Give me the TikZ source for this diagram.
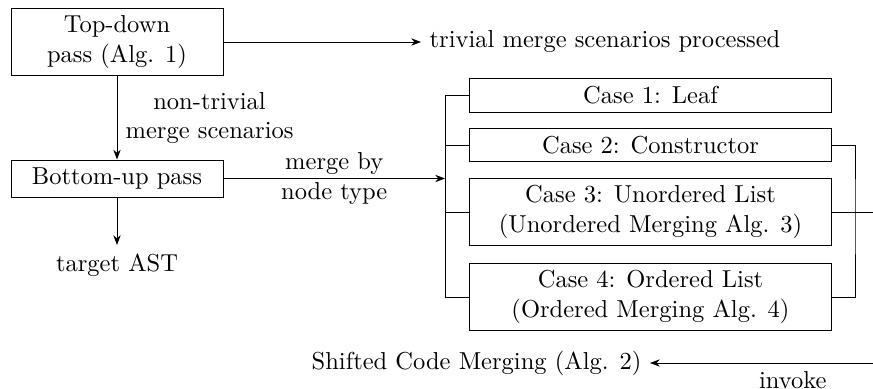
\documentclass[tikz,border=0pt]{standalone}
\usetikzlibrary{arrows.meta}
\begin{document}
\begin{tikzpicture}[x=0.408pt, y=-0.408pt,
  box/.style={draw, align=center, inner sep=2pt},
  passbox/.style={box, minimum width=86.5pt},
  casebox/.style={box, minimum width=147.3pt},
  conn/.style={-{Stealth[length=4pt,width=3pt]}}]
\useasboundingbox (0,0) rectangle (873,389);

% two passes over the tree
\node[passbox, minimum height=27.7pt] (td) at (117,42) {Top-down\\pass (Alg. 1)};
\node[passbox, minimum height=15.1pt] (bu) at (117,178.5) {Bottom-up pass};
\node[anchor=west] (triv) at (421,42) {trivial merge scenarios processed};
\node (tgt) at (117,265) {target AST};

\draw[conn] (td) -- (triv);
\draw[conn] (td) -- node[right, align=center] {non-trivial\\merge scenarios} (bu);
\draw[conn] (bu) -- (tgt);

% cases by node type
\node[casebox, minimum height=13.5pt] (c1) at (650.5,95.5) {Case 1: Leaf};
\node[casebox, minimum height=13.1pt] (c2) at (650.5,145) {Case 2: Constructor};
\node[casebox, minimum height=27.7pt] (c3) at (650.5,212) {Case 3: Unordered List\\(Unordered Merging Alg. 3)};
\node[casebox, minimum height=27.7pt] (c4) at (650.5,297) {Case 4: Ordered List\\(Ordered Merging Alg. 4)};

\coordinate (j) at (445,178.5);
\draw[conn] (bu) -- node[align=center] {merge by\\node type} (j);
\draw (j) |- (c1.west);
\draw (j) |- (c2.west);
\draw (j) |- (c3.west);
\draw (j) |- (c4.west);

% right-hand links
\coordinate (rb) at (855,212);
\coordinate (e3) at (873,212);
\draw (c2.east) -| (rb) |- (c4.east);
\draw (c3.east) -- (e3);

% shifted code merging
\node (sh) at (476.5,363) {Shifted Code Merging (Alg. 2)};
\coordinate (e4) at (873,363);
\draw[conn] (e4) -- node[below, pos=0.36] {invoke} (sh);
\end{tikzpicture}
\end{document}
